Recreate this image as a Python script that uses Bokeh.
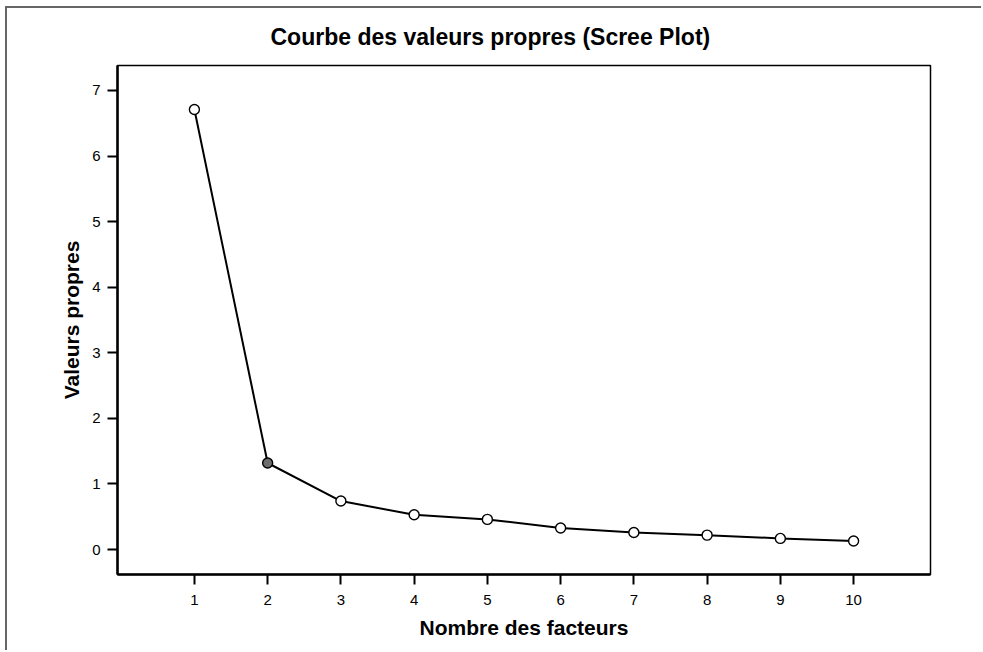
from bokeh.plotting import figure
from bokeh.models import ColumnDataSource, FixedTicker, Range1d, Title
from bokeh.embed import file_html
from bokeh.resources import INLINE

# Data
factors = [1, 2, 3, 4, 5, 6, 7, 8, 9, 10]
eigenvalues = [6.71, 1.32, 0.74, 0.53, 0.46, 0.33, 0.26, 0.22, 0.17, 0.13]
point_fill = ["white", "#6e6e6e", "white", "white", "white", "white", "white", "white", "white", "white"]
x_ticks = [1, 2, 3, 4, 5, 6, 7, 8, 9, 10]
y_ticks = [0, 1, 2, 3, 4, 5, 6, 7]

FONT = "Liberation Sans"

src = ColumnDataSource(dict(x=factors, y=eigenvalues, fill=point_fill))

p = figure(width=976, height=644, output_backend="svg", toolbar_location=None,
           x_range=Range1d(-0.05, 11.05), y_range=Range1d(-0.38, 7.38),
           min_border_left=110, min_border_right=53, min_border_top=57, min_border_bottom=78)

p.styles = {"border-top": "2px solid #666666", "border-left": "2px solid #666666",
            "margin-left": "5px", "margin-top": "6px"}

p.title = Title(text="Courbe des valeurs propres (Scree Plot)", align="left",
                vertical_align="top",
                text_font=FONT, text_font_size="23px", text_font_style="bold",
                text_color="black", offset=153, standoff=28)

p.grid.visible = False
p.outline_line_color = "black"
p.outline_line_width = 1.5

p.line("x", "y", source=src, line_color="black", line_width=2)
p.scatter("x", "y", source=src, size=10, fill_color="fill", line_color="black", line_width=1.4)

for ax in (p.xaxis[0], p.yaxis[0]):
    ax.axis_line_width = 2.5
    ax.axis_line_color = "black"
    ax.major_tick_line_width = 2
    ax.major_tick_line_color = "black"
    ax.major_tick_in = 0
    ax.major_tick_out = 10
    ax.minor_tick_line_color = None
    ax.major_label_text_font = FONT
    ax.major_label_text_font_size = "15px"
    ax.major_label_text_color = "black"
    ax.axis_label_text_font = FONT
    ax.axis_label_text_font_size = "21px"
    ax.axis_label_text_font_style = "bold"
    ax.axis_label_text_color = "black"

p.xaxis[0].ticker = FixedTicker(ticks=x_ticks)
p.yaxis[0].ticker = FixedTicker(ticks=y_ticks)
p.xaxis[0].axis_label = "Nombre des facteurs"
p.yaxis[0].axis_label = "Valeurs propres"
p.xaxis[0].major_label_standoff = 10
p.xaxis[0].axis_label_standoff = 8
p.yaxis[0].major_label_standoff = 7
p.yaxis[0].axis_label_standoff = 6

open("out.html", "w").write(file_html(p, INLINE))
